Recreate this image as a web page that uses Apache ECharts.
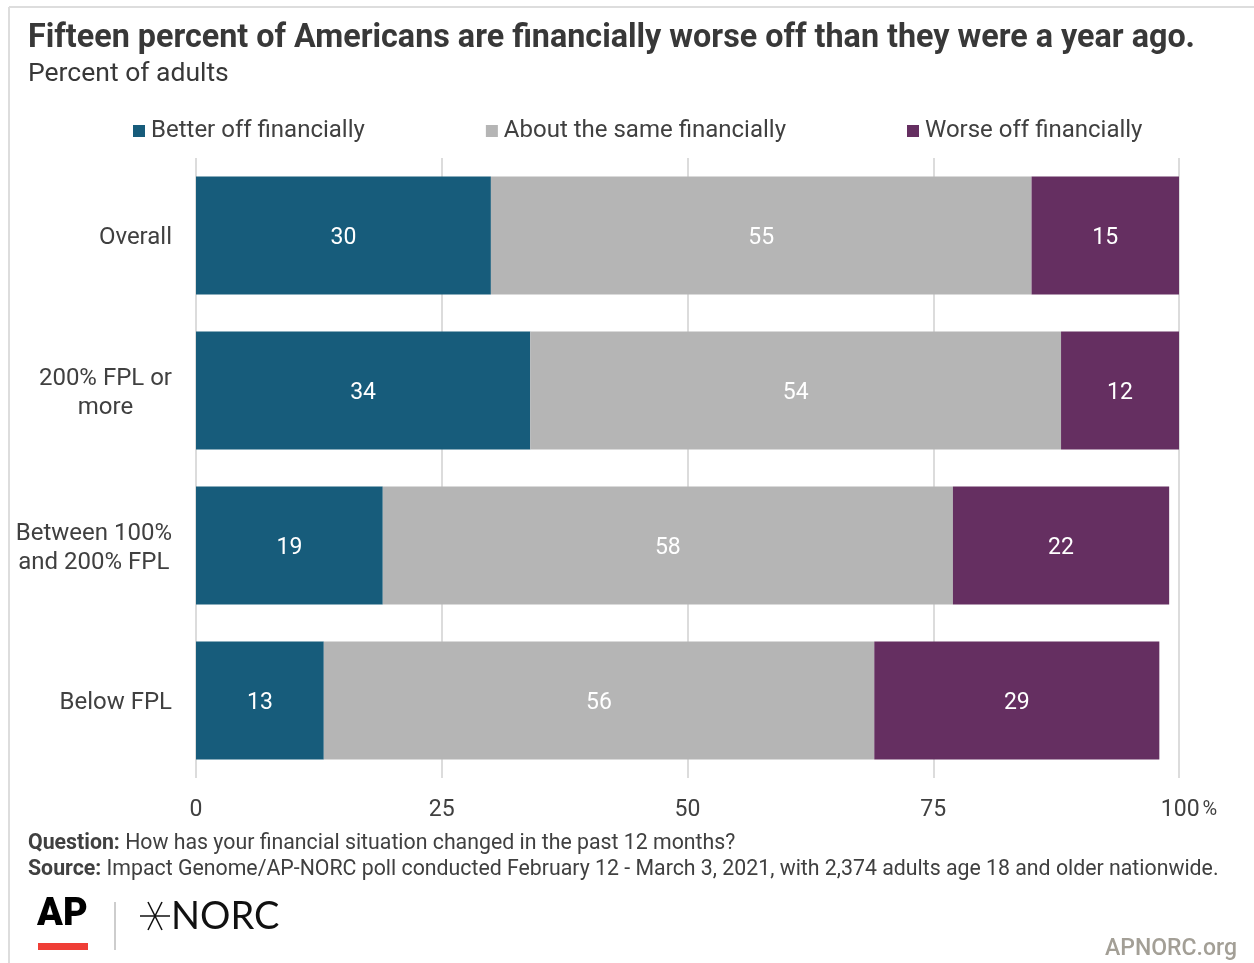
<!DOCTYPE html>
<html>
<head>
<meta charset="utf-8">
<script src="https://cdn.jsdelivr.net/npm/echarts@6/dist/echarts.min.js"></script>
<style>
  html, body { margin: 0; padding: 0; background: #fff; }
  #chart { width: 1254px; height: 963px; }
</style>
</head>
<body>
<div id="chart"></div>
<script>
// Survey groups (top to bottom) and the share of adults in each answer
const categories = ['Overall', '200% FPL or\nmore', 'Between 100%\nand 200% FPL', 'Below FPL'];
const seriesNames = ['Better off financially', 'About the same financially', 'Worse off financially'];
const betterOff = [30, 34, 19, 13];
const aboutSame = [55, 54, 58, 56];
const worseOff = [15, 12, 22, 29];
const xTicks = [0, 25, 50, 75, 100];

const colors = ['#175c7b', '#b5b5b5', '#652f61'];
const font = 'Roboto, "Noto Sans", sans-serif';
const textColor = '#404040';

const chart = echarts.init(document.getElementById('chart'), null, { renderer: 'canvas' });

function barSeries(name, values, color) {
  return {
    name: name,
    type: 'bar',
    stack: 'total',
    barCategoryGap: '24%',
    data: values,
    itemStyle: { color: color },
    label: {
      show: true,
      position: 'inside',
      offset: [0, 3],
      color: '#fff',
      fontFamily: font,
      fontSize: 23,
      formatter: p => String(p.value)
    },
    emphasis: { disabled: true }
  };
}

const option = {
  animation: false,
  backgroundColor: '#fff',
  title: {
    text: 'Fifteen percent of Americans are financially worse off than they were a year ago.',
    subtext: 'Percent of adults',
    left: 28,
    top: 23,
    padding: 0,
    itemGap: 6,
    textStyle: { fontFamily: font, fontSize: 32.3, fontWeight: 'bold', color: '#383838' },
    subtextStyle: { fontFamily: font, fontSize: 26.5, color: '#383838' }
  },
  legend: {
    data: seriesNames,
    left: 133,
    top: 119,
    padding: 0,
    itemWidth: 12,
    itemHeight: 12,
    itemGap: 121,
    icon: 'rect',
    selectedMode: false,
    textStyle: { fontFamily: font, fontSize: 24, color: textColor, padding: [0, 0, 0, 1] }
  },
  grid: { left: 196, right: 75, top: 158, bottom: 185, containLabel: false },
  xAxis: {
    type: 'value',
    min: 0,
    max: 100,
    interval: 25,
    axisLine: { show: false },
    axisTick: { show: false },
    splitLine: { show: true, lineStyle: { color: '#dcdcdc', width: 2 } },
    axisLabel: {
      margin: 21,
      fontFamily: font,
      fontSize: 23,
      color: textColor,
      formatter: v => (v === xTicks[xTicks.length - 1] ? '{pad|}{n|' + v + '}{p|%}' : String(v)),
      rich: {
        pad: { width: 20 },
        n: { fontFamily: font, fontSize: 23, color: textColor },
        p: { fontFamily: font, fontSize: 20, color: textColor, padding: [0, 0, 1, 3] }
      }
    }
  },
  yAxis: {
    type: 'category',
    data: categories,
    inverse: true,
    axisLine: { show: false },
    axisTick: { show: false },
    axisLabel: {
      margin: 24,
      align: 'right',
      padding: [5, 0, 0, 0],
      formatter: v => v.split('\n').map(s => '{c|' + s + '}').join('\n'),
      rich: {
        c: { align: 'center', fontFamily: font, fontSize: 24, color: textColor, lineHeight: 29 }
      }
    }
  },
  series: [
    barSeries(seriesNames[0], betterOff, colors[0]),
    barSeries(seriesNames[1], aboutSame, colors[1]),
    barSeries(seriesNames[2], worseOff, colors[2])
  ],
  graphic: [
    // outer frame: top and left rules
    { type: 'line', shape: { x1: 9, y1: 7, x2: 1254, y2: 7 }, style: { stroke: '#dddddd', lineWidth: 2 }, silent: true },
    { type: 'line', shape: { x1: 9, y1: 7, x2: 9, y2: 963 }, style: { stroke: '#dddddd', lineWidth: 2 }, silent: true },
    // footnotes
    {
      type: 'text', left: 28, top: 833, silent: true,
      style: {
        text: '{b|Question:} How has your financial situation changed in the past 12 months?',
        fontFamily: font, fontSize: 21.3, fill: '#404040',
        rich: { b: { fontFamily: font, fontSize: 21.3, fontWeight: 'bold', fill: '#404040' } }
      }
    },
    {
      type: 'text', left: 28, top: 859, silent: true,
      style: {
        text: '{b|Source:} Impact Genome/AP-NORC poll conducted February 12 - March 3, 2021, with 2,374 adults age 18 and older nationwide.',
        fontFamily: font, fontSize: 21.3, fill: '#404040',
        rich: { b: { fontFamily: font, fontSize: 21.3, fontWeight: 'bold', fill: '#404040' } }
      }
    },
    // AP wordmark
    {
      type: 'text', left: 37, top: 896, silent: true,
      style: { text: 'AP', fontFamily: 'Roboto, sans-serif', fontSize: 38, fontWeight: 900, fill: '#000', letterSpacing: -2 }
    },
    { type: 'rect', shape: { x: 38, y: 943, width: 50, height: 7 }, style: { fill: '#ef3e36' }, silent: true },
    { type: 'line', shape: { x1: 115, y1: 902, x2: 115, y2: 950 }, style: { stroke: '#bdbdbd', lineWidth: 1.5 }, silent: true },
    // NORC mark: thin six-ray star followed by the name
    { type: 'line', shape: { x1: 140, y1: 916, x2: 170, y2: 916 }, style: { stroke: '#111', lineWidth: 1.5 }, silent: true },
    { type: 'line', shape: { x1: 148, y1: 902, x2: 162, y2: 930 }, style: { stroke: '#111', lineWidth: 1.5 }, silent: true },
    { type: 'line', shape: { x1: 162, y1: 902, x2: 148, y2: 930 }, style: { stroke: '#111', lineWidth: 1.5 }, silent: true },
    {
      type: 'text', left: 171, top: 898, silent: true,
      style: { text: 'NORC', fontFamily: 'Lato, "Open Sans", sans-serif', fontSize: 38, fontWeight: 'normal', fill: '#111' }
    },
    {
      type: 'text', right: 17, top: 938, silent: true,
      style: { text: 'APNORC.org', fontFamily: font, fontSize: 23, fontWeight: 500, fill: '#a39f96' }
    }
  ]
};

chart.setOption(option);
</script>
</body>
</html>
